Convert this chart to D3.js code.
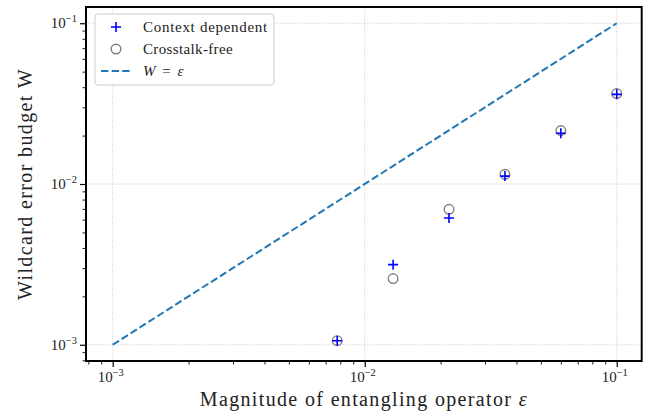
<!DOCTYPE html>
<html><head><meta charset="utf-8">
<script src="https://cdn.jsdelivr.net/npm/d3@7"></script>
<style>
body{margin:0;background:#fff;}
svg{display:block;font-family:"Liberation Serif","DejaVu Serif",serif;}
</style></head>
<body><svg id="c" width="651" height="418"></svg>
<script>
// ---- data ----
const epsilon = [0.1, 0.06, 0.036, 0.0216, 0.01296, 0.007776];
const contextDependent = [0.0361, 0.0207, 0.0112, 0.00614, 0.00315, 0.00106];
const crosstalkFree = [0.0365, 0.0215, 0.01148, 0.00696, 0.00258, 0.00106];
const refLine = [0.001, 0.1];
const majorTicks = [1e-3, 1e-2, 1e-1];
const majorExp = ["\u22123", "\u22122", "\u22121"];
const seriesNames = ["Context dependent", "Crosstalk-free"];
const xLabel = "Magnitude of entangling operator ";
const yLabel = "Wildcard error budget W";

// ---- layout ----
const L = 86, R = 641.7, T = 7, B = 361;
const svg = d3.select("#c");
const x = d3.scaleLog().domain([Math.pow(10,-3.106), Math.pow(10,-0.901)]).range([L, R]);
const y = d3.scaleLog().domain([Math.pow(10,-3.101), Math.pow(10,-0.899)]).range([B, T]);

const minorX = x.ticks().filter(v => !majorTicks.some(m => Math.abs(m - v)/m < 1e-6));
const minorY = y.ticks().filter(v => !majorTicks.some(m => Math.abs(m - v)/m < 1e-6));

// stretch text to the width of the reference's Computer Modern
function fit(sel, target){
  const node = sel.node();
  const n = node.textContent.length;
  const w = node.getComputedTextLength();
  sel.attr("letter-spacing", ((target - w) / n).toFixed(2));
}

// grid
const grid = svg.append("g").attr("stroke", "#b0b0b0").attr("stroke-width", 0.8).attr("stroke-dasharray", "0.8,1.6");
grid.selectAll("line.gx").data(majorTicks).join("line")
  .attr("x1", d => x(d)).attr("x2", d => x(d)).attr("y1", T).attr("y2", B);
grid.selectAll("line.gy").data(majorTicks).join("line")
  .attr("y1", d => y(d)).attr("y2", d => y(d)).attr("x1", L).attr("x2", R);

// reference line
svg.append("path")
  .attr("d", d3.line().x(d => x(d)).y(d => y(d))(refLine))
  .attr("fill", "none").attr("stroke", "#1f77b4").attr("stroke-width", 2)
  .attr("stroke-dasharray", "7.4,3.2");

// crosstalk-free circles
svg.append("g").selectAll("circle").data(epsilon).join("circle")
  .attr("cx", d => x(d)).attr("cy", (d,i) => y(crosstalkFree[i])).attr("r", 4.8)
  .attr("fill", "none").attr("stroke", "#808080").attr("stroke-width", 1.4);

// context dependent pluses
const plus = (cx, cy, s) => `M${cx-s},${cy}H${cx+s}M${cx},${cy-s}V${cy+s}`;
svg.append("g").selectAll("path").data(epsilon).join("path")
  .attr("d", (d,i) => plus(x(d), y(contextDependent[i]), 5))
  .attr("stroke", "#0000ff").attr("stroke-width", 1.6).attr("fill", "none");

// axes
function styleAxis(g){ g.select(".domain").remove(); g.selectAll("line").attr("stroke","#000"); }
const xMaj = svg.append("g").attr("transform", `translate(0,${B})`)
  .call(d3.axisBottom(x).tickValues(majorTicks).tickSize(6).tickFormat(() => ""));
const xMin = svg.append("g").attr("transform", `translate(0,${B})`)
  .call(d3.axisBottom(x).tickValues(minorX).tickSize(3.5).tickFormat(() => ""));
const yMaj = svg.append("g").attr("transform", `translate(${L},0)`)
  .call(d3.axisLeft(y).tickValues(majorTicks).tickSize(6).tickFormat(() => ""));
const yMin = svg.append("g").attr("transform", `translate(${L},0)`)
  .call(d3.axisLeft(y).tickValues(minorY).tickSize(3.5).tickFormat(() => ""));
[xMaj, xMin, yMaj, yMin].forEach(styleAxis);
[xMaj, yMaj].forEach(g => g.selectAll("line").attr("stroke-width", 1.2));
[xMin, yMin].forEach(g => g.selectAll("line").attr("stroke-width", 0.9));

// tick labels with superscripts
function sciLabel(g, i){
  g.append("tspan").text("10");
  g.append("tspan").attr("dy", -6).attr("font-size", 10.5).text(majorExp[i]);
}
svg.append("g").selectAll("text").data(majorTicks).join("text")
  .attr("x", d => x(d) - 2).attr("y", 382).attr("text-anchor", "middle")
  .attr("font-size", 15).attr("fill", "#222")
  .each(function(d,i){ sciLabel(d3.select(this), i); });
svg.append("g").selectAll("text").data(majorTicks).join("text")
  .attr("x", 77).attr("y", d => y(d) + 5).attr("text-anchor", "end")
  .attr("font-size", 15).attr("fill", "#222")
  .each(function(d,i){ sciLabel(d3.select(this), i); });

// spines
svg.append("rect").attr("x", L).attr("y", T).attr("width", R - L).attr("height", B - T)
  .attr("fill", "none").attr("stroke", "#000").attr("stroke-width", 2);

// axis labels
const xl = svg.append("text").attr("x", (L + R) / 2).attr("y", 406).attr("text-anchor", "middle")
  .attr("font-size", 20).attr("fill", "#222");
xl.append("tspan").text(xLabel);
xl.append("tspan").attr("font-style", "italic").text("\u03b5");
fit(xl, 328);
const yl = svg.append("text").attr("transform", `translate(32,${(T + B) / 2}) rotate(-90)`)
  .attr("text-anchor", "middle").attr("font-size", 20).attr("fill", "#222").text(yLabel);
fit(yl, 232);

// legend
const lg = svg.append("g");
lg.append("rect").attr("x", 95).attr("y", 14).attr("width", 179).attr("height", 71).attr("rx", 3)
  .attr("fill", "#fff").attr("fill-opacity", 0.8).attr("stroke", "#cccccc").attr("stroke-width", 1);
const rows = [27, 49, 71];
lg.append("path").attr("d", plus(116, rows[0], 5)).attr("stroke", "#0000ff").attr("stroke-width", 1.6);
lg.append("circle").attr("cx", 116).attr("cy", rows[1]).attr("r", 4.8)
  .attr("fill", "none").attr("stroke", "#808080").attr("stroke-width", 1.4);
lg.append("line").attr("x1", 101).attr("x2", 131).attr("y1", rows[2]).attr("y2", rows[2])
  .attr("stroke", "#1f77b4").attr("stroke-width", 2).attr("stroke-dasharray", "7.4,3.2");
const fs = 15;
const t1 = lg.append("text").attr("x", 143).attr("y", rows[0] + 5).attr("font-size", fs).attr("fill", "#222").text(seriesNames[0]);
fit(t1, 125);
const t2 = lg.append("text").attr("x", 143).attr("y", rows[1] + 5).attr("font-size", fs).attr("fill", "#222").text(seriesNames[1]);
fit(t2, 90);
const t3 = lg.append("text").attr("x", 143).attr("y", rows[2] + 5).attr("font-size", fs).attr("fill", "#222");
t3.append("tspan").attr("font-style", "italic").text("W");
t3.append("tspan").text(" = ");
t3.append("tspan").attr("font-style", "italic").text("\u03b5");
fit(t3, 42);
</script></body></html>
